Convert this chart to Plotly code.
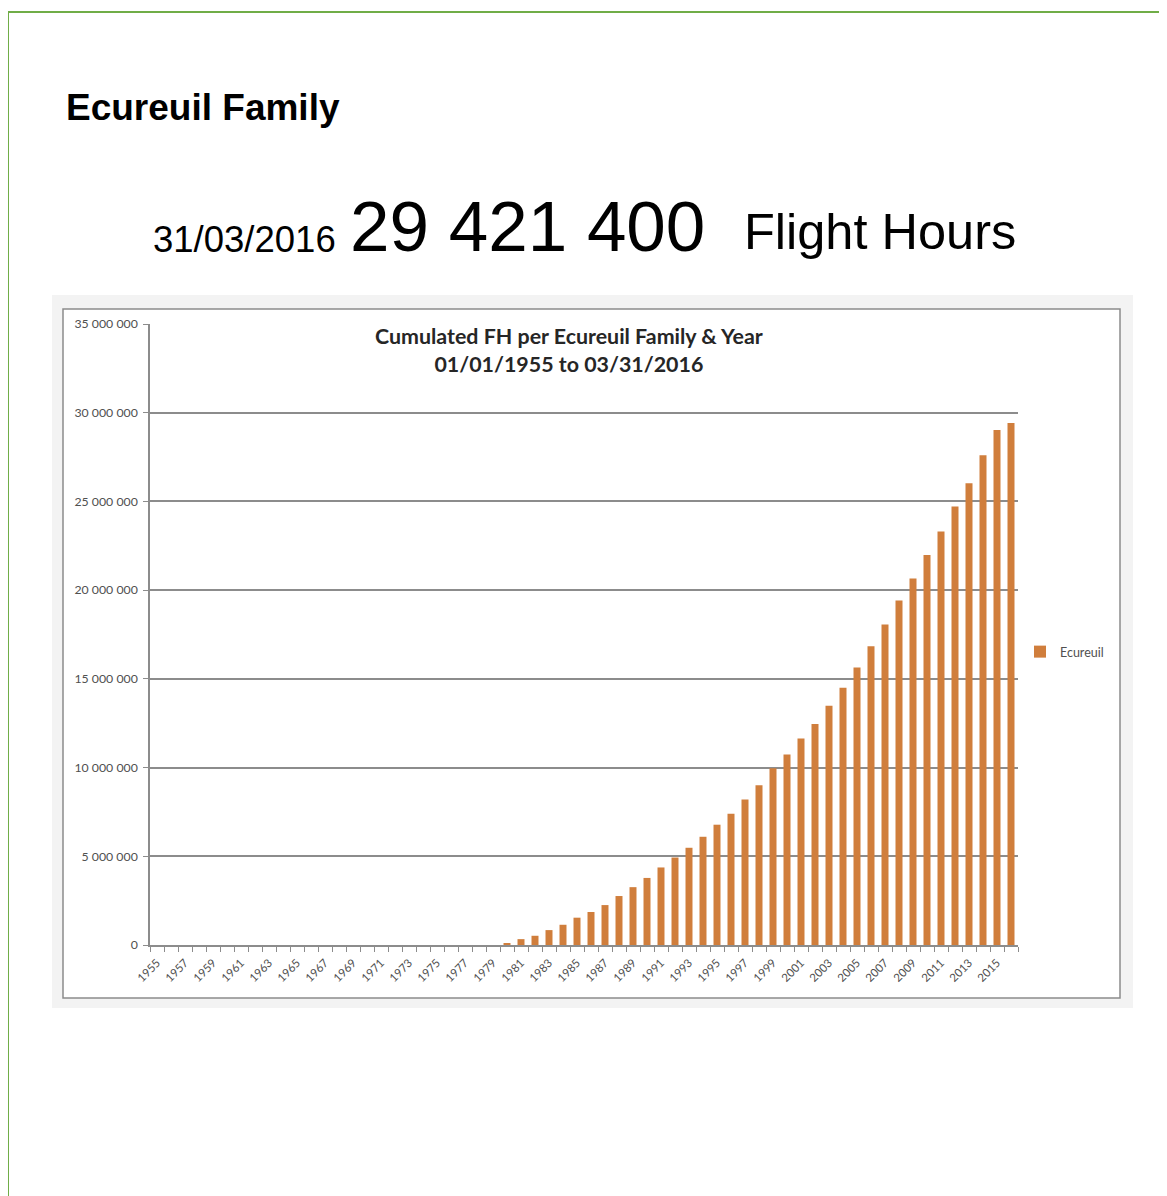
import plotly.graph_objects as go

W, H = 1167, 1196

years = list(range(1955, 2017))
flight_hours = [
    0, 0, 0, 0, 0, 0, 0, 0, 0, 0,            # 1955-1964
    0, 0, 0, 0, 0, 0, 0, 0, 0, 0,            # 1965-1974
    0, 0, 0, 0, 0,                           # 1975-1979
    110000, 330000, 520000, 840000, 1140000,  # 1980-1984
    1540000, 1860000, 2250000, 2760000, 3260000,  # 1985-1989
    3780000, 4370000, 4930000, 5480000, 6100000,  # 1990-1994
    6780000, 7400000, 8200000, 9000000, 9960000,  # 1995-1999
    10740000, 11640000, 12460000, 13480000, 14500000,  # 2000-2004
    15640000, 16840000, 18060000, 19410000, 20650000,  # 2005-2009
    21980000, 23310000, 24720000, 26030000, 27600000,  # 2010-2014
    29020000, 29421400,                       # 2015-2016
]
tick_years = years[::2]
tick_labels = [str(y) for y in tick_years]
y_ticks = [0, 5000000, 10000000, 15000000, 20000000, 25000000, 30000000, 35000000]

series_name = "Ecureuil"
page_title = "Ecureuil Family"
date_text = "31/03/2016"
total_text = "29 421 400"
unit_text = "Flight Hours"
chart_title = "Cumulated FH per Ecureuil Family &amp; Year<br>01/01/1955 to 03/31/2016"

OFF = 8  # page body margin in the browser


def px(x):
    return (x - OFF) / W


def py(y):
    return 1 - (y - OFF) / H


BAR = "#D07E3C"
GRID = "#8c8c8c"
TXT = "#505050"
CFONT = "Lato"

fig = go.Figure()
fig.add_trace(go.Bar(
    x=years, y=flight_hours, name=series_name,
    marker=dict(color=BAR, line=dict(width=0)),
    showlegend=True,
))

shapes = [
    dict(type="line", xref="paper", yref="paper", x0=px(8), x1=px(1175), y0=py(12), y1=py(12),
         line=dict(color="#70AD47", width=2)),
    dict(type="line", xref="paper", yref="paper", x0=px(8), x1=px(8), y0=py(12), y1=py(1204),
         line=dict(color="#70AD47", width=2)),
    dict(type="rect", xref="paper", yref="paper", x0=px(52), x1=px(1133), y0=py(295), y1=py(1008),
         fillcolor="#f3f3f3", line=dict(width=0), layer="below"),
    dict(type="rect", xref="paper", yref="paper", x0=px(63), x1=px(1120), y0=py(309), y1=py(998),
         fillcolor="white", line=dict(color=GRID, width=1.5), layer="below"),
]

annotations = [
    dict(text="<b>" + page_title + "</b>", xref="paper", yref="paper", x=px(64), y=py(107),
         xanchor="left", yanchor="middle", showarrow=False,
         font=dict(family="Liberation Sans", size=37, color="black")),
    dict(text=date_text, xref="paper", yref="paper", x=px(151), y=py(239),
         xanchor="left", yanchor="middle", showarrow=False,
         font=dict(family="Liberation Sans", size=36.5, color="black")),
    dict(text=total_text, xref="paper", yref="paper", x=px(348), y=py(226),
         xanchor="left", yanchor="middle", showarrow=False,
         font=dict(family="Liberation Sans", size=71, color="black")),
    dict(text=unit_text, xref="paper", yref="paper", x=px(742), y=py(232),
         xanchor="left", yanchor="middle", showarrow=False,
         font=dict(family="Liberation Sans", size=50.5, color="black")),
    dict(text="<b>" + chart_title + "</b>", xref="paper", yref="paper", x=px(569), y=py(350),
         xanchor="center", yanchor="middle", showarrow=False,
         font=dict(family=CFONT, size=21.4, color="#262626")),
]

fig.update_layout(
    template="none",
    width=W, height=H,
    margin=dict(l=0, r=0, t=0, b=0, pad=0, autoexpand=False),
    paper_bgcolor="white",
    plot_bgcolor="rgba(0,0,0,0)",
    separators=". ",
    bargap=0.5,
    shapes=shapes,
    annotations=annotations,
    showlegend=True,
    legend=dict(x=px(1020), y=py(652), xanchor="left", yanchor="middle",
                font=dict(family=CFONT, size=12.5, color=TXT),
                bgcolor="rgba(0,0,0,0)", borderwidth=0, itemwidth=30),
    xaxis=dict(
        domain=[px(150), px(1018)],
        range=[1954.5, 2016.5],
        automargin=False,
        tickmode="array", tickvals=tick_years, ticktext=tick_labels,
        tickangle=-45,
        ticks="outside", ticklen=5, tickcolor="rgba(0,0,0,0)",
        tickfont=dict(family=CFONT, size=11.5, color=TXT),
        showline=True, linecolor=GRID, linewidth=1.5,
        showgrid=False, zeroline=False,
        minor=dict(tickmode="linear", tick0=1954.5, dtick=1, ticks="outside",
                   ticklen=5, tickcolor=GRID, tickwidth=1, showgrid=False),
    ),
    yaxis=dict(
        domain=[py(945), py(324)],
        range=[0, 35000000],
        automargin=False,
        tickmode="array", tickvals=y_ticks,
        tickformat=",d",
        ticks="outside", ticklen=5, tickcolor=GRID,
        ticklabelstandoff=3,
        tickfont=dict(family=CFONT, size=12.3, color=TXT),
        showline=True, linecolor=GRID, linewidth=1.5,
        showgrid=True, gridcolor=GRID, gridwidth=1.5,
        zeroline=False,
    ),
)

fig.write_html("out.html")
